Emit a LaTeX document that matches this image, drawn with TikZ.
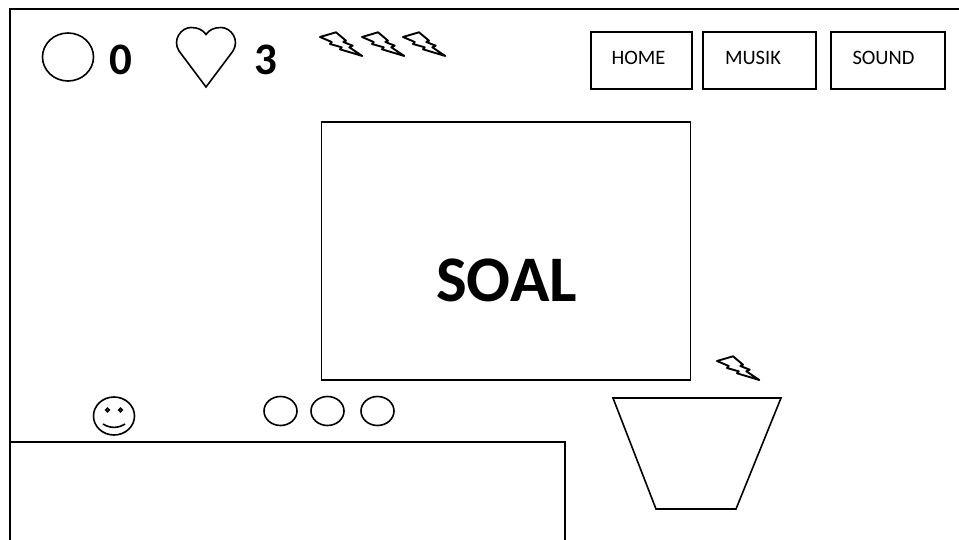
\documentclass[tikz,border=0pt]{standalone}
\usepackage{fontspec}
\setmainfont{Carlito}
\tikzset{
  ink/.style={draw=black,line width=1.6pt,line join=miter},
  btn/.style={ink,anchor=north west,inner sep=0pt,outer sep=0pt},
  btntext/.style={font=\fontsize{20.5}{22}\selectfont,inner sep=0pt},
  bigtext/.style={font=\fontsize{45}{48}\selectfont\bfseries,inner sep=0pt},
  pics/bolt/.style={code={
    \draw[ink,line width=1.9pt,line join=round] (0,0)--(16,-4.7)--(26,3.7)--(23.3,5)--(32.7,8.7)--(29.3,10.3)--(42.3,19)--(20,12.3)--(21.7,10.3)--(10,7)--(11.7,5)--cycle;
  }}
}
\begin{document}
\begin{tikzpicture}[x=1pt,y=-1pt]
\useasboundingbox (0,0) rectangle (959,540);
\fill[white] (0,0) rectangle (959,540);
% frame
\draw[ink] (959,9)--(10,9)--(10,540);
% lower-left panel
\draw[ink] (10,442)--(565,442)--(565,540);
% score row
\draw[ink] (68,57) ellipse [x radius=25.5,y radius=24];
\node[bigtext] (coins) at (121,60) {0};
\draw[ink] (206,87) -- (179,51) .. controls (172,40) and (181,27.5) .. (191,27.5) .. controls (198,27.5) and (203,30) .. (206,34.5) .. controls (209,30) and (214,27.5) .. (221,27.5) .. controls (231,27.5) and (240,40) .. (233,51) -- cycle;
\node[bigtext] (lives) at (266,60) {3};
\pic at (320,37) {bolt};
\pic at (362,37) {bolt};
\pic at (403,37) {bolt};
% menu
\node[btn,minimum width=101pt,minimum height=57pt] (home) at (591,32) {};
\node[btn,minimum width=113pt,minimum height=57pt] (musik) at (703,32) {};
\node[btn,minimum width=114pt,minimum height=57pt] (sound) at (831,32) {};
\node[btntext] (hometext) at (638.5,58) {HOME};
\node[btntext] (musiktext) at (753,58) {MUSIK};
\node[btntext] (soundtext) at (883.5,58) {SOUND};
% question
\node[btn,minimum width=369pt,minimum height=258pt] (soal) at (321.5,122) {};
\node[font=\fontsize{65}{70}\selectfont\bfseries,inner sep=0pt] (soaltext) at (506.5,280) {SOAL};
% falling bolt and basket
\pic at (717,361) {bolt};
\draw[ink] (613,398)--(781,398)--(736,509)--(656,509)--cycle;
% smiley
\draw[ink] (114,416) ellipse [x radius=20.5,y radius=19];
\draw[ink] (107.5,410) circle (1.8);
\draw[ink] (120.5,410) circle (1.8);
\draw[ink] (103,424) .. controls (110,428.5) and (118,428.5) .. (125,424);
% circles
\draw[ink] (280.5,411) ellipse [x radius=16.5,y radius=14.5];
\draw[ink] (327.5,411) ellipse [x radius=16.5,y radius=14.5];
\draw[ink] (377.5,411) ellipse [x radius=16.5,y radius=14.5];
\end{tikzpicture}
\end{document}
